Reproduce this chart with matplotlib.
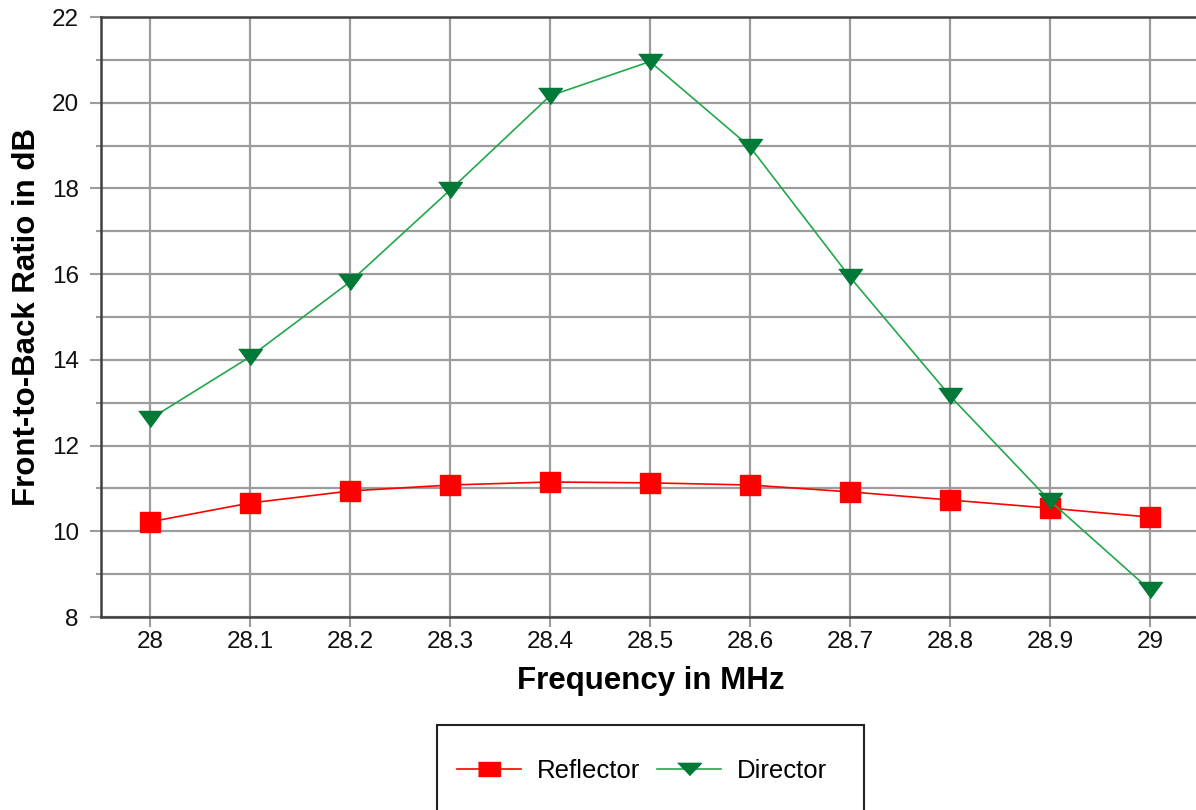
import matplotlib
matplotlib.use("Agg")
import matplotlib.pyplot as plt
from matplotlib.patches import Rectangle
from matplotlib.ticker import MultipleLocator

freq = [28.0, 28.1, 28.2, 28.3, 28.4, 28.5, 28.6, 28.7, 28.8, 28.9, 29.0]
reflector = [10.22, 10.66, 10.94, 11.08, 11.15, 11.13, 11.08, 10.92, 10.73, 10.54, 10.33]
director = [12.62, 14.07, 15.82, 17.96, 20.16, 20.96, 18.97, 15.93, 13.16, 10.71, 8.63]
xtick_vals = [28.0, 28.1, 28.2, 28.3, 28.4, 28.5, 28.6, 28.7, 28.8, 28.9, 29.0]
xtick_labels = ["28", "28.1", "28.2", "28.3", "28.4", "28.5", "28.6", "28.7", "28.8", "28.9", "29"]
ytick_vals = [8, 10, 12, 14, 16, 18, 20, 22]

W, H = 1196, 810
FONT = "Liberation Sans"
fig = plt.figure(figsize=(W / 100, H / 100), dpi=100)
ax = fig.add_axes([101 / W, 1 - 617 / H, (1196 - 101) / W, 600 / H])

tri = [(-1, 0.68), (1, 0.68), (0, -0.68)]
ax.plot(freq, reflector, color="#ff0000", lw=1.2, marker="s", markersize=15,
        markerfacecolor="#ff0000", markeredgecolor="#ff0000", label="Reflector", zorder=3)
ax.plot(freq, director, color="#22a84a", lw=1.2, marker=tri, markersize=17,
        markerfacecolor="#007a36", markeredgecolor="#007a36", label="Director", zorder=3)

ax.set_xlim(27.951, 29.046)
ax.set_ylim(8, 22)
ax.set_xticks(xtick_vals)
ax.set_xticklabels(xtick_labels)
ax.set_yticks(ytick_vals)
ax.yaxis.set_minor_locator(MultipleLocator(1))
for lbl in ax.get_xticklabels() + ax.get_yticklabels():
    lbl.set_family(FONT)

ax.grid(True, which="major", axis="both", color="#9c9c9c", lw=1.6)
ax.grid(True, which="minor", axis="y", color="#9c9c9c", lw=1.6)
ax.set_axisbelow(True)

for s in ["left", "bottom", "top"]:
    ax.spines[s].set_color("#404040")
    ax.spines[s].set_linewidth(1.8)
ax.spines["right"].set_visible(False)

ax.tick_params(axis="x", which="major", length=7.2, width=1.5, color="#9c9c9c",
               labelsize=17.5, labelcolor="#111111", pad=3)
ax.tick_params(axis="y", which="major", length=8, width=1.5, color="#9c9c9c",
               labelsize=17.5, labelcolor="#111111", pad=8)
ax.tick_params(axis="y", which="minor", length=3.6, width=1.5, color="#9c9c9c")

ax.set_xlabel("Frequency in MHz", fontsize=22.5, fontweight="bold", family=FONT)
ax.set_ylabel("Front-to-Back Ratio in dB", fontsize=22.5, fontweight="bold", family=FONT)
ax.xaxis.label.set_va("baseline")
ax.xaxis.set_label_coords(0.5023, (617 - 689) / 600)
ax.yaxis.label.set_va("baseline")
ax.yaxis.set_label_coords((35 - 101) / 1095, (617 - 316.5) / 600)

# legend box (extends past figure bottom)
fig.patches.append(Rectangle((437 / W, 1 - 815 / H), (864 - 437) / W, 90 / H,
                             transform=fig.transFigure, fill=False,
                             edgecolor="#222222", lw=1.5))
leg = fig.legend(loc="center", bbox_to_anchor=(642 / W, 1 - 771 / H), ncol=2, frameon=False,
                 prop={"family": FONT, "size": 18.5}, handlelength=2.5, handletextpad=0.62,
                 columnspacing=0.62, borderaxespad=0, borderpad=0)
h_sq, h_tri = leg.legend_handles
h_sq.set_marker([(-1, -0.65), (1, -0.65), (1, 0.65), (-1, 0.65)])
h_sq.set_markersize(16.5)
h_tri.set_marker([(-1, 0.52), (1, 0.52), (0, -0.52)])
h_tri.set_markersize(17)

fig.savefig("out.png", dpi=100)
